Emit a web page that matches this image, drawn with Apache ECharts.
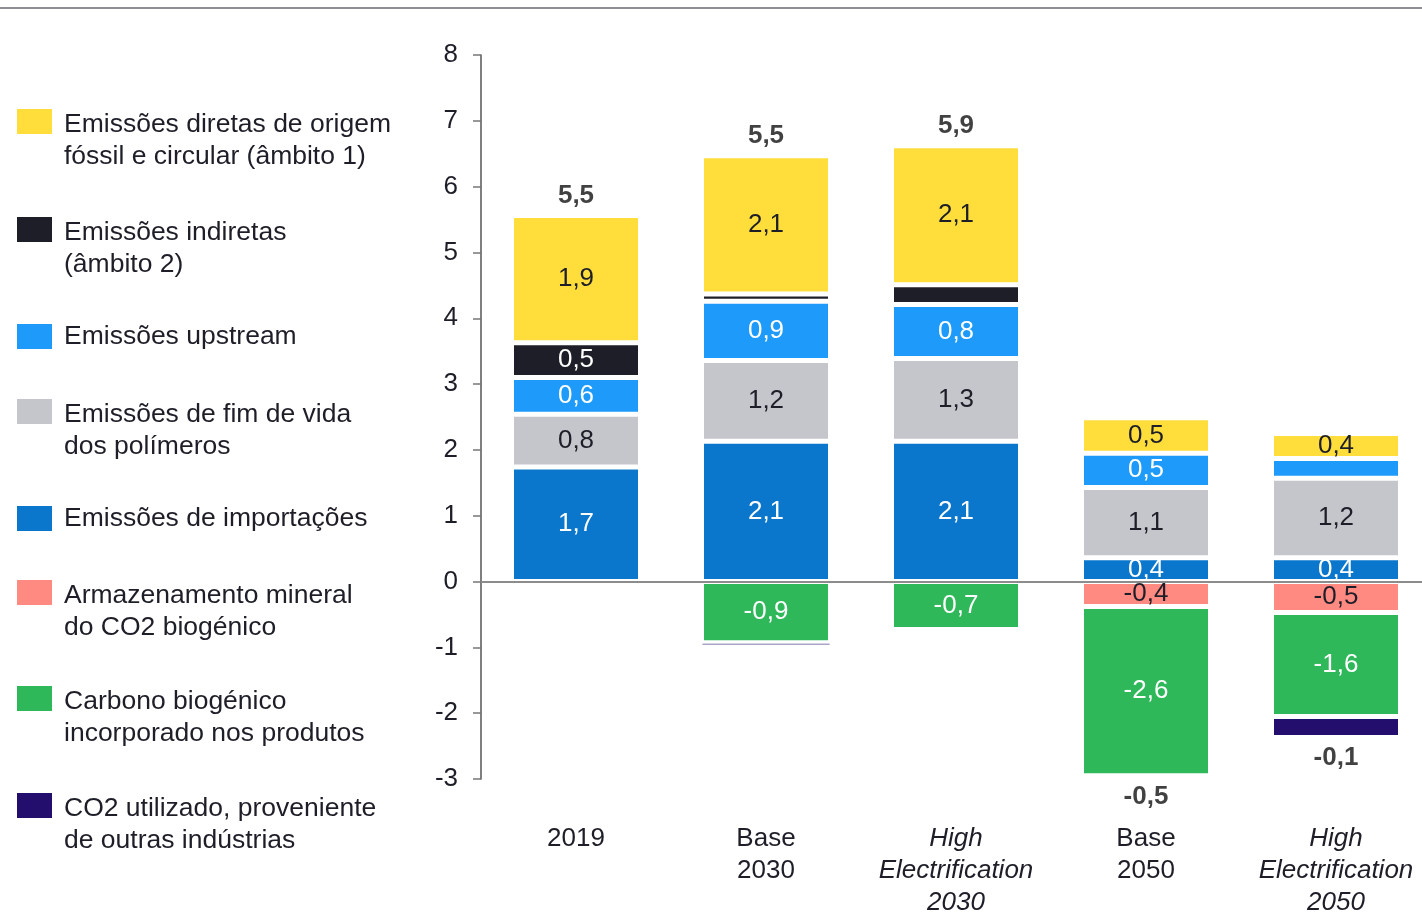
<!DOCTYPE html>
<html>
<head>
<meta charset="utf-8">
<script src="https://cdn.jsdelivr.net/npm/echarts@6.0.0/dist/echarts.min.js"></script>
<style>
  html, body { margin: 0; padding: 0; background: #fff; }
  #chart { width: 1422px; height: 914px; }
</style>
</head>
<body>
<div id="chart"></div>
<script>
// categorias e valores (Mt CO2e)
const categories = ['2019', 'Base\n2030', 'High\nElectrification\n2030', 'Base\n2050', 'High\nElectrification\n2050']

const importacoes = [1.74, 2.13, 2.13, 0.36, 0.36]
const fimDeVida = [0.8, 1.23, 1.26, 1.07, 1.21]
const upstream = [0.56, 0.9, 0.82, 0.52, 0.3]
const indiretas = [0.53, 0.11, 0.3, null, null]
const diretas = [1.93, 2.1, 2.11, 0.54, 0.38]
const mineral = [null, null, null, -0.38, -0.47]
const biogenico = [null, -0.93, -0.73, -2.57, -1.58]
const co2Utilizado = [null, -0.04, null, -0.02, -0.32]

const totals = [5.5, 5.5, 5.9, -0.5, -0.1]

const yTicks = [-3, 8, 1] // min, max, intervalo

const FONT = '"Liberation Sans", Arial, sans-serif'
const DARK = '#1E1E28'

const fmt = v => v.toFixed(1).replace('.', ',')

const barSeries = (name, data, color, labelColor) => ({
    name: name,
    type: 'bar',
    stack: 'total',
    barWidth: 129,
    data: data.map(v => (v != null && Math.abs(v) < 0.1) ? { value: v, itemStyle: { borderWidth: 1 } } : v),
    itemStyle: { color: color, borderColor: '#fff', borderWidth: 2.5 },
    label: {
        show: true,
        position: 'inside',
        color: labelColor,
        fontSize: 26,
        fontFamily: FONT,
        formatter: p => Math.abs(p.value) < 0.34 ? '' : fmt(p.value)
    }
})

const seriesDefs = [
    ['Emissões de importações', importacoes, '#0A76CC', '#fff'],
    ['Emissões de fim de vida\ndos polímeros', fimDeVida, '#C5C5CC', DARK],
    ['Emissões upstream', upstream, '#1E9BFA', '#fff'],
    ['Emissões indiretas\n(âmbito 2)', indiretas, '#1E1E28', '#fff'],
    ['Emissões diretas de origem\nfóssil e circular (âmbito 1)', diretas, '#FFDE3C', DARK],
    ['Armazenamento mineral\ndo CO2 biogénico', mineral, '#FF8A82', DARK],
    ['Carbono biogénico\nincorporado nos produtos', biogenico, '#2EB85A', '#fff'],
    ['CO2 utilizado, proveniente\nde outras indústrias', co2Utilizado, '#230E6E', '#fff']
]

const legendOrder = [4, 3, 2, 1, 0, 5, 6, 7].map(i => seriesDefs[i][0])

// topo/base de cada pilha para posicionar o total líquido
const allData = seriesDefs.map(s => s[1])
const posSum = categories.map((c, i) => allData.reduce((a, d) => a + (d[i] > 0 ? d[i] : 0), 0))
const negSum = categories.map((c, i) => allData.reduce((a, d) => a + (d[i] < 0 ? d[i] : 0), 0))

const series = seriesDefs.map(s => barSeries(s[0], s[1], s[2], s[3]))

series[0].markLine = {
    silent: true,
    symbol: 'none',
    label: { show: false },
    lineStyle: { color: '#8C8C8C', width: 2, type: 'solid' },
    data: [{ yAxis: 0 }]
}

series.push({
    name: 'total',
    type: 'scatter',
    symbolSize: 0,
    silent: true,
    z: 10,
    data: totals.map((t, i) => ({
        value: [i, t >= 0 ? posSum[i] : negSum[i]],
        label: { position: t >= 0 ? 'top' : 'bottom' }
    })),
    label: {
        show: true,
        distance: 7,
        color: '#111',
        fontSize: 26,
        fontWeight: 'bold',
        fontFamily: FONT,
        formatter: p => fmt(totals[p.dataIndex])
    }
})

// uma legenda por item: o ícone fica alinhado com a primeira linha do texto
const legendTops = [109, 217, 324, 399, 506, 580, 686, 793]
const legends = legendOrder.map((name, i) => {
    const twoLines = name.indexOf('\n') >= 0
    return {
        orient: 'vertical',
        left: 17,
        top: twoLines ? legendTops[i] : legendTops[i] - 3.5,
        padding: 0,
        itemWidth: 35,
        itemHeight: twoLines ? 64 : 25,
        icon: twoLines ? 'path://M0,0L35,0L35,25L0,25Z M0,64L0,64' : 'rect',
        selectedMode: false,
        itemStyle: { borderWidth: 0 },
        textStyle: {
            color: DARK,
            fontSize: 26.5,
            lineHeight: 32,
            fontFamily: FONT,
            padding: [0, 0, 0, 7]
        },
        data: [name]
    }
})

const chart = echarts.init(document.getElementById('chart'), null, { renderer: 'canvas' })

const option = {
    backgroundColor: '#fff',
    animation: false,
    textStyle: { fontFamily: FONT },
    graphic: [{
        type: 'rect',
        left: 0,
        top: 7,
        shape: { width: 1422, height: 2 },
        style: { fill: '#8E8E96' }
    }],
    grid: {
        left: 481,
        top: 55,
        width: 950,
        height: 724,
        outerBoundsMode: 'none',
        containLabel: false
    },
    legend: legends,
    xAxis: {
        type: 'category',
        data: categories,
        position: 'bottom',
        axisLine: { show: false, onZero: false },
        axisTick: { show: false },
        axisLabel: {
            margin: 44,
            interval: 0,
            color: DARK,
            fontSize: 26,
            lineHeight: 32,
            fontFamily: FONT,
            formatter: v => v.indexOf('High') === 0
                ? v.split('\n').map(l => '{i|' + l + '}').join('\n')
                : v,
            rich: {
                i: { fontStyle: 'italic', fontSize: 26, lineHeight: 32, color: DARK, fontFamily: FONT }
            }
        }
    },
    yAxis: {
        type: 'value',
        min: yTicks[0],
        max: yTicks[1],
        interval: yTicks[2],
        axisLine: { show: true, lineStyle: { color: '#555', width: 1.5 } },
        axisTick: { show: true, length: 8, lineStyle: { color: '#777', width: 1.5 } },
        splitLine: { show: false },
        axisLabel: {
            margin: 23,
            color: DARK,
            fontSize: 26,
            fontFamily: FONT
        }
    },
    series: series
}

chart.setOption(option)
</script>
</body>
</html>
